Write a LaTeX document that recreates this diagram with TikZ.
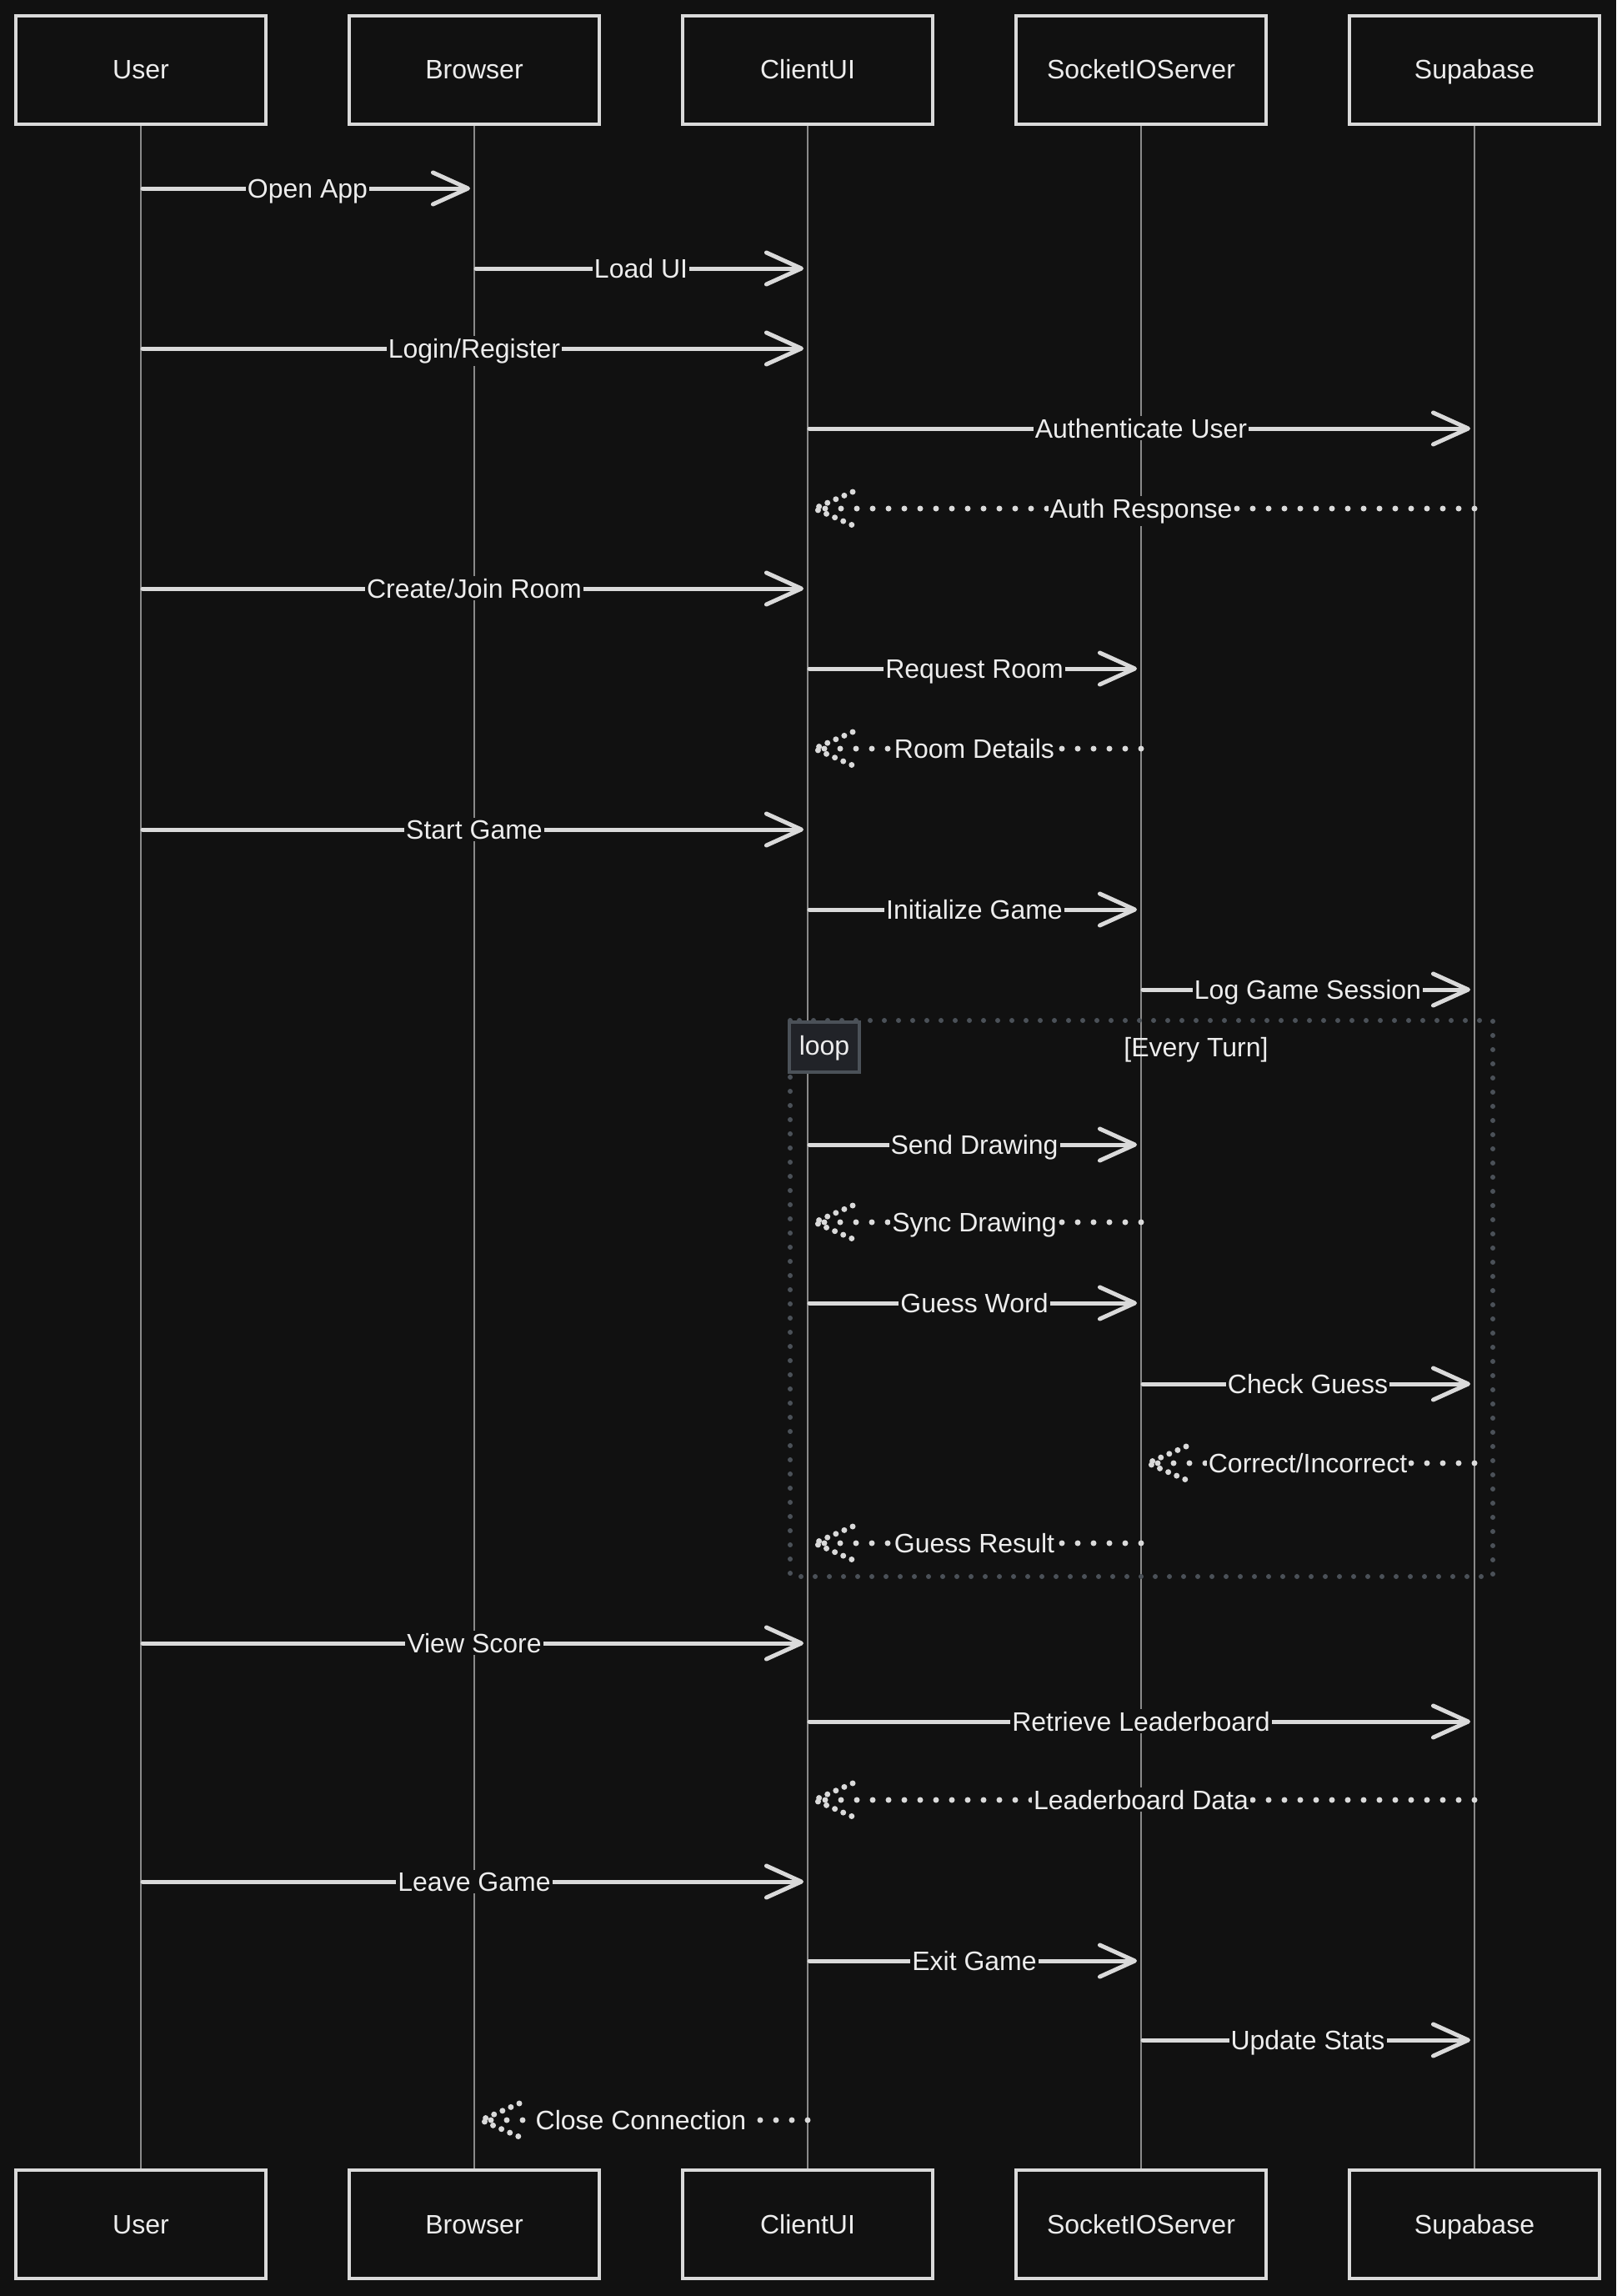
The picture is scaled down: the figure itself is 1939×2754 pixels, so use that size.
\documentclass[tikz,border=0pt]{standalone}
\usepackage{fontspec}
\setmainfont{Liberation Sans}
\usetikzlibrary{arrows.meta,calc}
\definecolor{bg}{HTML}{111111}
\definecolor{fg}{HTML}{DADADA}
\definecolor{txt}{HTML}{EDEDED}
\definecolor{life}{HTML}{8A8A8A}
\definecolor{loopc}{HTML}{4B5158}
\definecolor{loopfill}{HTML}{212328}
\newcommand\callmsg[4]{%
  \draw[callarrow] ($(#1T.south |- 0,#3)+(2,0)$) -- ($(#2T.south |- 0,#3)+(-5,0)$);
  \coordinate (lblpos) at ($(#1T.south)!0.5!(#2T.south)$);
  \node[lbl, anchor=base] at (lblpos |- 0,#3+11) {#4};}
\newcommand\retmsg[4]{%
  \coordinate (rs) at (#1T.south |- 0,#3);
  \coordinate (rt) at ($(#2T.south |- 0,#3)+(8,0)$);
  \draw[retline] (rs) -- (rt);
  \draw[rethead] ($(rt)+(46,-20)$) -- (rt) -- ($(rt)+(46,20)$);
  \coordinate (lblpos) at ($(#1T.south)!0.5!(#2T.south)$);
  \node[lbl, anchor=base] at (lblpos |- 0,#3+11) {#4};}
\begin{document}
\begin{tikzpicture}[x=1pt,y=-1pt,
  actor/.style={draw=fg, line width=4pt, fill=bg, minimum width=300pt, minimum height=130pt, text=txt, font=\fontsize{32}{38}\selectfont, inner sep=0pt, text height=23pt, text depth=1pt},
  lifeline/.style={draw=life, line width=1.6pt},
  lbl/.style={fill=bg, text=txt, font=\fontsize{32}{38}\selectfont, inner xsep=2pt, inner ysep=3pt},
  callarrow/.style={draw=fg, line width=5pt, line cap=round, -{Straight Barb[length=42pt,width=38pt,round]}},
  retline/.style={draw=fg, line width=7pt, line cap=round, dash pattern=on 0pt off 19pt},
  rethead/.style={draw=fg, line width=7pt, line cap=round, dash pattern=on 0pt off 11pt},
  loopframe/.style={draw=loopc, line width=6pt, line cap=round, dash pattern=on 0pt off 17pt},
  looptag/.style={draw=loopc, fill=loopfill, line width=4pt, text=txt, minimum width=84pt, minimum height=60pt, inner sep=0pt, font=\fontsize{32}{38}\selectfont, text height=23pt, text depth=5pt},
  guard/.style={text=txt, font=\fontsize{32}{38}\selectfont, inner sep=0pt, text height=23pt, text depth=7pt}]
\fill[bg] (0,0) rectangle (1939,2754);
\useasboundingbox (0,0) rectangle (1939,2754);
% actors
\path (169,84) node[actor] (uT) {}; \path (169,2668) node[actor] (uB) {};
\path (569,84) node[actor] (bT) {}; \path (569,2668) node[actor] (bB) {};
\path (969,84) node[actor] (cT) {}; \path (969,2668) node[actor] (cB) {};
\path (1369,84) node[actor] (sT) {}; \path (1369,2668) node[actor] (sB) {};
\path (1769,84) node[actor] (dT) {}; \path (1769,2668) node[actor] (dB) {};
\foreach \n in {u,b,c,s,d}{ \draw[lifeline] (\n T.south) -- (\n B.north); }
\foreach \n/\t in {u/User, b/Browser, c/ClientUI, s/SocketIOServer, d/Supabase}{
  \node[actor] at (\n T) {\t};
  \node[actor] at (\n B) {\t};
}
% loop frame
\draw[loopframe] (948,1224) rectangle (1791,1891);
% messages
\callmsg{u}{b}{226}{Open App}
\callmsg{b}{c}{322}{Load UI}
\callmsg{u}{c}{418}{Login/Register}
\callmsg{c}{d}{514}{Authenticate User}
\retmsg{d}{c}{610}{Auth Response}
\callmsg{u}{c}{706}{Create/Join Room}
\callmsg{c}{s}{802}{Request Room}
\retmsg{s}{c}{898}{Room Details}
\callmsg{u}{c}{995}{Start Game}
\callmsg{c}{s}{1091}{Initialize Game}
\callmsg{s}{d}{1187}{Log Game Session}
\callmsg{c}{s}{1373}{Send Drawing}
\retmsg{s}{c}{1466}{Sync Drawing}
\callmsg{c}{s}{1563}{Guess Word}
\callmsg{s}{d}{1660}{Check Guess}
\retmsg{d}{s}{1755}{Correct/Incorrect}
\retmsg{s}{c}{1851}{Guess Result}
\callmsg{u}{c}{1971}{View Score}
\callmsg{c}{d}{2065}{Retrieve Leaderboard}
\retmsg{d}{c}{2159}{Leaderboard Data}
\callmsg{u}{c}{2257}{Leave Game}
\callmsg{c}{s}{2352}{Exit Game}
\callmsg{s}{d}{2447}{Update Stats}
\retmsg{c}{b}{2543}{Close Connection}
% loop tag
\node[looptag] (looplbl) at (989,1256) {loop};
\node[guard] (loopguard) at (1435,1259) {[Every Turn]};
\end{tikzpicture}
\end{document}
